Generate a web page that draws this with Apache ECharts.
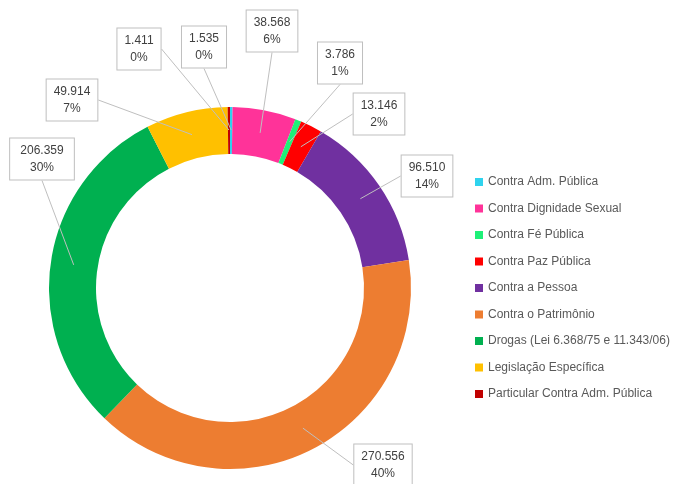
<!DOCTYPE html>
<html>
<head>
<meta charset="utf-8">
<script src="https://cdn.jsdelivr.net/npm/echarts@6/dist/echarts.min.js"></script>
<style>
  html, body { margin: 0; padding: 0; background: #fff; }
  #chart { width: 696px; height: 484px; }
</style>
</head>
<body>
<div id="chart"></div>
<script>
var categories = [
  'Contra Adm. Pública',
  'Contra Dignidade Sexual',
  'Contra Fé Pública',
  'Contra Paz Pública',
  'Contra a Pessoa',
  'Contra o Patrimônio',
  'Drogas (Lei 6.368/75 e 11.343/06)',
  'Legislação Específica',
  'Particular Contra Adm. Pública'
]
var values = [1535, 38568, 3786, 13146, 96510, 270556, 206359, 49914, 1411]
var colors = ['#2fd3ee', '#ff3399', '#1ef078', '#ff0000', '#7030a0', '#ed7d31', '#00b050', '#ffc000', '#c00000']

// callout box centres, same order as categories
var labelPos = [
  [204, 47], [272, 31], [340, 63], [379, 114], [427, 176],
  [383, 465], [42, 159], [72, 100], [139, 49]
]

function fmt (v) {
  return String(v).replace(/\B(?=(\d{3})+(?!\d))/g, '.')
}

var pieData = categories.map(function (name, i) {
  return { name: name, value: values[i], itemStyle: { color: colors[i] } }
})

var chart = echarts.init(document.getElementById('chart'))
chart.setOption({
  backgroundColor: '#fff',
  animation: false,
  legend: {
    orient: 'vertical',
    left: 470,
    top: 170,
    itemWidth: 8,
    itemHeight: 8,
    itemGap: 12.5,
    icon: 'rect',
    data: categories,
    textStyle: {
      color: '#595959',
      fontSize: 12,
      lineHeight: 14,
      fontFamily: 'Liberation Sans'
    }
  },
  series: [{
    type: 'pie',
    center: [230, 288],
    radius: [134, 181],
    startAngle: 90,
    clockwise: true,
    label: { show: false },
    labelLine: { show: false },
    emphasis: { disabled: true },
    data: pieData
  }, {
    // transparent copy used only to anchor the callouts mid-ring
    type: 'pie',
    center: [230, 288],
    radius: [0, 158],
    startAngle: 90,
    clockwise: true,
    silent: true,
    z: 3,
    itemStyle: { color: 'rgba(0,0,0,0)' },
    emphasis: { disabled: true },
    label: {
      show: true,
      position: 'outside',
      formatter: function (p) {
        return fmt(p.value) + '\n' + Math.round(p.percent) + '%'
      },
      color: '#404040',
      fontSize: 12,
      lineHeight: 17,
      fontFamily: 'Liberation Sans',
      align: 'center',
      backgroundColor: '#fff',
      borderColor: '#bfbfbf',
      borderWidth: 1,
      padding: [4, 7, 3, 7]
    },
    labelLine: {
      show: true,
      length: 0,
      length2: 0,
      lineStyle: { color: '#bfbfbf', width: 1 }
    },
    labelLayout: function (params) {
      var pos = labelPos[params.dataIndex]
      return {
        x: pos[0],
        y: pos[1],
        align: 'center',
        verticalAlign: 'middle'
      }
    },
    data: categories.map(function (name, i) {
      return { name: name, value: values[i] }
    })
  }]
})
</script>
</body>
</html>
